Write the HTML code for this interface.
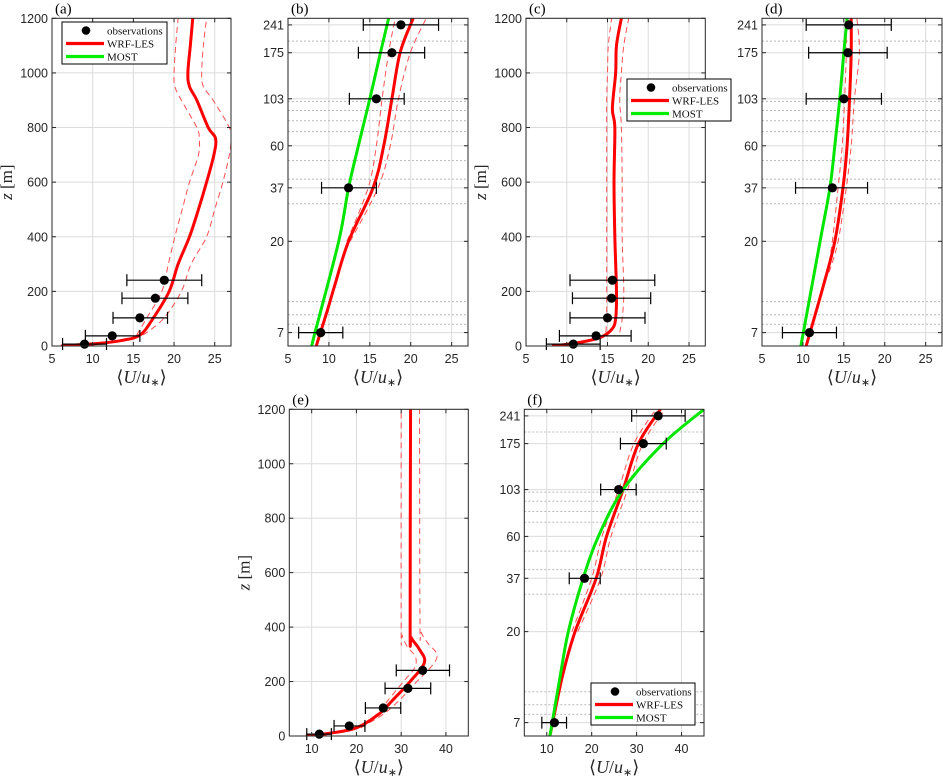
<!DOCTYPE html>
<html><head><meta charset="utf-8"><style>
html,body{margin:0;padding:0;background:#fff;}
svg{display:block;}
.tk{font-family:"Liberation Sans",sans-serif;font-size:12.5px;fill:#262626;}
.sf{font-family:"Liberation Serif",serif;}
</style></head><body>
<svg id="fig" width="943" height="776" viewBox="0 0 943 776" xmlns="http://www.w3.org/2000/svg"></svg>
<script>
// ---------- data ----------
const obsZ = [7, 37, 103, 175, 241];
const obsAB = [9.0, 12.4, 15.8, 17.7, 18.8];
const loAB = [6.3, 9.1, 12.5, 13.6, 14.2];
const hiAB = [11.7, 15.8, 19.2, 21.7, 23.4];
const obsCD = [10.8, 13.6, 15.0, 15.5, 15.6];
const loCD = [7.5, 9.1, 10.4, 10.7, 10.4];
const hiCD = [14.1, 17.9, 19.6, 20.3, 20.8];
const obsEF = [11.7, 18.4, 26.0, 31.5, 34.8];
const loEF = [8.9, 15.0, 22.0, 26.4, 28.9];
const hiEF = [14.4, 21.9, 29.9, 36.6, 40.8];

// panel a (linear z)
const zA = [0,5,10,20,40,100,200,300,400,500,600,700,760,800,900,950,1000,1100,1200];
const uA = [6.1,8.5,10.9,13.5,15.8,17.4,19.4,20.5,21.9,23,24,24.9,25.1,24.2,22.8,21.9,21.7,22,22.3];
const zAd = [40,100,200,300,400,500,600,700,760,800,900,950,1000,1100,1200];
const uAlo = [15.4,16.6,18.5,19.3,20.1,21,21.9,23,23.1,22.8,20.9,20.1,20,20.2,20.5];
const uAhi = [16.2,18.7,20.9,22.1,24,25,26,26.8,27,26.8,24.8,23.6,23.4,23.6,24];
// panel b (log z)
const zB = [6,9,12,20,37,60,103,175,260];
const uB = [8.45,9.8,10.7,12.4,15.4,16.7,17.7,18.7,20.3];
const zBd = [20,37,60,103,175,260];
const uBlo = [12.2,14.8,15.8,16.5,17.3,18.1];
const uBhi = [12.6,16.0,17.5,18.5,19.95,21.9];
const zBm = [6,7,20,37,60,103,175,260];
const uBm = [7.9,8.3,11.2,12.4,13.6,15.0,16.3,17.3];
// panel c (linear z)
const zC = [0,10,30,60,100,200,400,600,800,870,1000,1100,1200];
const uC = [8.2,11,14,15.5,16,16.1,15.9,15.8,15.9,15.6,16,16.1,16.7];
const zCd = [50,100,200,400,600,800,900,1000,1100,1200];
const uClo = [14.8,14.9,14.9,14.9,14.9,14.9,14.9,15,15.1,15.5];
const uChi = [16.5,16.8,17,16.8,16.8,16.7,16.5,16.7,17,17.6];
// panel d (log z)
const zD = [6,12,20,37,60,103,175,260];
const uD = [10.4,12.5,13.9,14.9,15.4,15.7,15.9,15.9];
const zDd = [14,20,37,60,103,175,260];
const uDlo = [13.0,13.6,14.3,14.8,15.1,15.3,15.3];
const uDhi = [13.2,14.3,15.3,15.9,16.3,16.9,16.6];
const zDm = [6,20,37,60,103,175,260];
const uDm = [9.75,12.1,13.3,13.9,14.5,15.0,15.4];
// panel e (linear z)
const zE = [0,10,30,80,130,200,270,320,360,400,1200];
const uE = [8.7,14,20,25,28,32,35.2,34,32.3,32,32.1];
const zElo = [0,10,30,80,130,200,250,290,330,370,400,1200];
const uElo = [8.7,14,19.5,24.5,27,30.5,33,33.2,31.3,30.2,30,30];
const zEhi = [30,80,130,200,260,300,340,380,420,1200];
const uEhi = [21,26,29.5,33.5,37,38,36,34.5,34.2,34.1];
// panel f (log z)
const zF = [6,12,20,37,60,103,175,260];
const uF = [10.7,13.5,16.3,21,23.3,27,30.4,35.3];
const zFd = [20,37,60,103,175,260];
const uFlo = [15.6,20,22.3,26,29.4,34.3];
const uFhi = [16.9,22,24.3,28,31.4,36.3];
const uFm = [10.7,13,14.8,18.1,21.5,27,35.9,45];

const linTicks = [0,200,400,600,800,1000,1200];
const logTicks = [7,20,37,60,103,175,241];
const logDotted = [200,100,90,80,70.6,50.6,40.9,30.8,10,8.6,7.7];
const xTicks5 = [5,10,15,20,25];
const xTicks10 = [10,20,30,40];

// ---------- drawing ----------
const NS = "http://www.w3.org/2000/svg";
const fig = document.getElementById('fig');
function mk(tag, attrs, parent){
  const e = document.createElementNS(NS, tag);
  for (const k in attrs) e.setAttribute(k, attrs[k]);
  (parent||fig).appendChild(e);
  return e;
}
function smooth(pts){
  if (pts.length < 3) return pts.map((p,i)=>(i?'L':'M')+p[0].toFixed(2)+','+p[1].toFixed(2)).join(' ');
  let d = 'M' + pts[0][0].toFixed(2) + ',' + pts[0][1].toFixed(2);
  for (let i=0;i<pts.length-1;i++){
    const p0 = pts[i-1]||pts[i], p1=pts[i], p2=pts[i+1], p3=pts[i+2]||pts[i+1];
    const c1=[p1[0]+(p2[0]-p0[0])/6, p1[1]+(p2[1]-p0[1])/6];
    const c2=[p2[0]-(p3[0]-p1[0])/6, p2[1]-(p3[1]-p1[1])/6];
    d += ' C'+c1[0].toFixed(2)+','+c1[1].toFixed(2)+' '+c2[0].toFixed(2)+','+c2[1].toFixed(2)+' '+p2[0].toFixed(2)+','+p2[1].toFixed(2);
  }
  return d;
}
let clipId = 0;
function panel(cfg){
  const g = mk('g', {});
  
  
  const L=cfg.x0, R=cfg.x1, T=cfg.y0, B=cfg.y1;
  const sx = u => L + (u - cfg.xd[0])/(cfg.xd[1]-cfg.xd[0])*(R-L);
  let sy;
  if (cfg.log) { const a=Math.log(cfg.yd[0]), b=Math.log(cfg.yd[1]); sy = z => B - (Math.log(z)-a)/(b-a)*(B-T); }
  else sy = z => B - (z-cfg.yd[0])/(cfg.yd[1]-cfg.yd[0])*(B-T);
  const cid = 'clip' + (clipId++);
  const cp = mk('clipPath', {id: cid}, g); mk('rect', {x:L, y:T, width:R-L, height:B-T}, cp);
  const grid = mk('g', {}, g);
  
  
  cfg.xt.forEach(v => mk('line', {x1:sx(v), x2:sx(v), y1:T, y2:B, stroke:'#dcdcdc', 'stroke-width':1}, grid));
  const yt = cfg.log ? logTicks : linTicks;
  if (cfg.log) logDotted.forEach(v => mk('line', {x1:L, x2:R, y1:sy(v), y2:sy(v), stroke:'#b8b8b8', 'stroke-width':1, 'stroke-dasharray':'2 2'}, grid));
  yt.forEach(v => mk('line', {x1:L, x2:R, y1:sy(v), y2:sy(v), stroke:'#dcdcdc', 'stroke-width':1}, grid));
  const sg = mk('g', {'clip-path': 'url(#' + cid + ')'}, g);
  function line(us, zs, color, w, dash, name){
    const d = smooth(us.map((u,i) => [sx(u), sy(zs[i])]));
    const p = mk('path', {d:d, fill:'none', stroke:color, 'stroke-width':w, 'stroke-linejoin':'round'}, sg);
    if (dash) p.setAttribute('stroke-dasharray', dash);
    
    
  }
  cfg.lines.forEach(l => line(l.u, l.z, l.c, l.w, l.dash, l.name));
  const og = mk('g', {}, g);
  
  
  cfg.obs.forEach((u,i) => {
    const y = sy(obsZ[i]), xl = sx(cfg.lo[i]), xh = sx(cfg.hi[i]);
    mk('line', {x1:xl, x2:xh, y1:y, y2:y, stroke:'#000', 'stroke-width':1.2}, og);
    mk('line', {x1:xl, x2:xl, y1:y-6, y2:y+6, stroke:'#000', 'stroke-width':1.2}, og);
    mk('line', {x1:xh, x2:xh, y1:y-6, y2:y+6, stroke:'#000', 'stroke-width':1.2}, og);
    const c = mk('circle', {cx:sx(u), cy:y, r:4.6, fill:'#000'}, og);
    
    
  });
  mk('rect', {x:L, y:T, width:R-L, height:B-T, fill:'none', stroke:'#262626', 'stroke-width':1}, g);
  cfg.xt.forEach(v => {
    mk('line', {x1:sx(v), x2:sx(v), y1:B, y2:B-4, stroke:'#262626'}, g);
    mk('line', {x1:sx(v), x2:sx(v), y1:T, y2:T+4, stroke:'#262626'}, g);
    const t = mk('text', {x:sx(v), y:B+17, 'text-anchor':'middle', class:'tk'}, g); t.textContent = v;
  });
  yt.forEach(v => {
    mk('line', {x1:L, x2:L+4, y1:sy(v), y2:sy(v), stroke:'#262626'}, g);
    mk('line', {x1:R, x2:R-4, y1:sy(v), y2:sy(v), stroke:'#262626'}, g);
    const t = mk('text', {x:L-4, y:sy(v)+4.5, 'text-anchor':'end', class:'tk'}, g); t.textContent = v;
  });
  const pl = mk('text', {x:L+3, y:T-5, class:'sf', 'font-size':'15'}, g);
  pl.textContent = '(' + cfg.id + ')';
  
  
  const xl = mk('text', {x:(L+R)/2, y:B+37, 'text-anchor':'middle', class:'sf', 'font-size':'18', fill:'#262626'}, g);
  xl.innerHTML = '⟨<tspan font-style="italic">U</tspan>/<tspan font-style="italic">u</tspan><tspan font-size="11" dy="3">∗</tspan><tspan dy="-3">⟩</tspan>';
  
  
  if (cfg.ylab) {
    const cy = (T+B)/2;
    const yl = mk('text', {x:L-40, y:cy, transform:'rotate(-90 ' + (L-40) + ' ' + cy + ')', 'text-anchor':'middle', class:'sf', 'font-size':'17', fill:'#262626'}, g);
    yl.innerHTML = '<tspan font-style="italic">z</tspan> [m]';
    
    
  }
  if (cfg.legend) {
    const [lx, ly, lw] = cfg.legend;
    const lg = mk('g', {}, g);
    
    
    mk('rect', {x:lx, y:ly, width:lw, height:42, fill:'#fff', stroke:'#000', 'stroke-width':1}, lg);
    mk('circle', {cx:lx+24, cy:ly+8.5, r:4.3, fill:'#000'}, lg);
    mk('line', {x1:lx+4, x2:lx+42, y1:ly+21.5, y2:ly+21.5, stroke:'#ff0000', 'stroke-width':3.2}, lg);
    mk('line', {x1:lx+4, x2:lx+42, y1:ly+34.5, y2:ly+34.5, stroke:'#00ee00', 'stroke-width':3.2}, lg);
    [['observations',8.5],['WRF-LES',21.5],['MOST',34.5]].forEach(([s,dy]) => {
      const t = mk('text', {x:lx+45, y:ly+dy+4, class:'sf', 'font-size':'11', fill:'#111'}, lg);
      t.textContent = s;
      
      
    });
  }
}
const RED='#ff0000', GRN='#00e600', DSH='#ff5050';
panel({id:'a', x0:52, x1:231, y0:18.3, y1:346, xd:[5,27], yd:[0,1200], log:false, xt:xTicks5, ylab:true,
  obs:obsAB, lo:loAB, hi:hiAB, legend:[62,22,105],
  lines:[{u:uAlo,z:zAd,c:DSH,w:1,dash:'6 4',name:'wrf-les-lower'},{u:uAhi,z:zAd,c:DSH,w:1,dash:'6 4',name:'wrf-les-upper'},{u:uA,z:zA,c:RED,w:3,name:'wrf-les-line'}]});
panel({id:'b', x0:288, x1:468, y0:18.3, y1:346, xd:[5,27], yd:[6,260], log:true, xt:xTicks5, ylab:false,
  obs:obsAB, lo:loAB, hi:hiAB,
  lines:[{u:uBlo,z:zBd,c:DSH,w:1,dash:'6 4',name:'wrf-les-lower'},{u:uBhi,z:zBd,c:DSH,w:1,dash:'6 4',name:'wrf-les-upper'},{u:uBm,z:zBm,c:GRN,w:3,name:'most-line'},{u:uB,z:zB,c:RED,w:3,name:'wrf-les-line'}]});
panel({id:'c', x0:526, x1:705.3, y0:18.3, y1:346, xd:[5,27], yd:[0,1200], log:false, xt:xTicks5, ylab:true,
  obs:obsCD, lo:loCD, hi:hiCD, legend:[627,79,104],
  lines:[{u:uClo,z:zCd,c:DSH,w:1,dash:'6 4',name:'wrf-les-lower'},{u:uChi,z:zCd,c:DSH,w:1,dash:'6 4',name:'wrf-les-upper'},{u:uC,z:zC,c:RED,w:3,name:'wrf-les-line'}]});
panel({id:'d', x0:762, x1:942, y0:18.3, y1:346, xd:[5,27], yd:[6,260], log:true, xt:xTicks5, ylab:false,
  obs:obsCD, lo:loCD, hi:hiCD,
  lines:[{u:uDlo,z:zDd,c:DSH,w:1,dash:'6 4',name:'wrf-les-lower'},{u:uDhi,z:zDd,c:DSH,w:1,dash:'6 4',name:'wrf-les-upper'},{u:uDm,z:zDm,c:GRN,w:3,name:'most-line'},{u:uD,z:zD,c:RED,w:3,name:'wrf-les-line'}]});
panel({id:'e', x0:289.3, x1:468.3, y0:409.3, y1:736, xd:[5,45], yd:[0,1200], log:false, xt:xTicks10, ylab:true,
  obs:obsEF, lo:loEF, hi:hiEF,
  lines:[{u:uElo,z:zElo,c:DSH,w:1,dash:'6 4',name:'wrf-les-lower'},{u:uEhi,z:zEhi,c:DSH,w:1,dash:'6 4',name:'wrf-les-upper'},{u:uE,z:zE,c:RED,w:3,name:'wrf-les-line'}]});
panel({id:'f', x0:524.3, x1:704, y0:409.3, y1:736, xd:[5,45], yd:[6,260], log:true, xt:xTicks10, ylab:false,
  obs:obsEF, lo:loEF, hi:hiEF, legend:[591,683,104],
  lines:[{u:uFlo,z:zFd,c:DSH,w:1,dash:'6 4',name:'wrf-les-lower'},{u:uFhi,z:zFd,c:DSH,w:1,dash:'6 4',name:'wrf-les-upper'},{u:uF,z:zF,c:RED,w:3,name:'wrf-les-line'},{u:uFm,z:zF,c:GRN,w:3,name:'most-line'}]});
</script>
</body></html>
